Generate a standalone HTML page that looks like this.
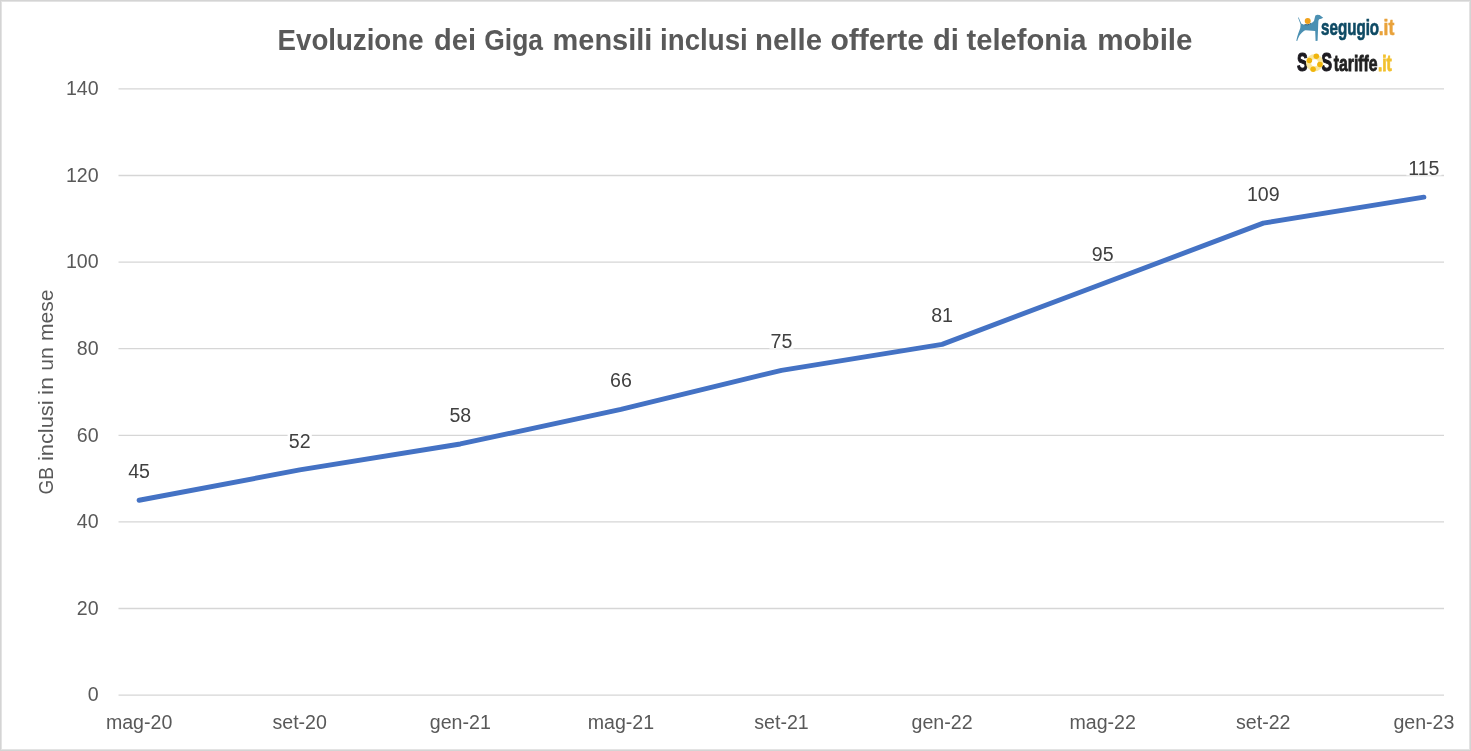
<!DOCTYPE html>
<html><head><meta charset="utf-8"><style>
html,body{margin:0;padding:0;background:#fff;}
body{width:1471px;height:751px;overflow:hidden;position:relative;}
.frame{position:absolute;left:0;top:0;width:1469px;height:749px;border:1px solid #d4d4d4;box-shadow:inset 0 0 0 1px #e3e3e3;}
svg{position:absolute;left:0;top:0;will-change:transform;}
</style></head><body><div class="frame"></div>
<svg width="1471" height="751" viewBox="0 0 1471 751" font-family="Liberation Sans, sans-serif">
<line x1="118.5" y1="695.10" x2="1444" y2="695.10" stroke="#d6d6d6" stroke-width="1.3"/>
<text x="98.6" y="701.40" text-anchor="end" font-size="19.6" fill="#595959">0</text>
<line x1="118.5" y1="608.50" x2="1444" y2="608.50" stroke="#d6d6d6" stroke-width="1.3"/>
<text x="98.6" y="614.80" text-anchor="end" font-size="19.6" fill="#595959">20</text>
<line x1="118.5" y1="521.90" x2="1444" y2="521.90" stroke="#d6d6d6" stroke-width="1.3"/>
<text x="98.6" y="528.20" text-anchor="end" font-size="19.6" fill="#595959">40</text>
<line x1="118.5" y1="435.30" x2="1444" y2="435.30" stroke="#d6d6d6" stroke-width="1.3"/>
<text x="98.6" y="441.60" text-anchor="end" font-size="19.6" fill="#595959">60</text>
<line x1="118.5" y1="348.70" x2="1444" y2="348.70" stroke="#d6d6d6" stroke-width="1.3"/>
<text x="98.6" y="355.00" text-anchor="end" font-size="19.6" fill="#595959">80</text>
<line x1="118.5" y1="262.10" x2="1444" y2="262.10" stroke="#d6d6d6" stroke-width="1.3"/>
<text x="98.6" y="268.40" text-anchor="end" font-size="19.6" fill="#595959">100</text>
<line x1="118.5" y1="175.50" x2="1444" y2="175.50" stroke="#d6d6d6" stroke-width="1.3"/>
<text x="98.6" y="181.80" text-anchor="end" font-size="19.6" fill="#595959">120</text>
<line x1="118.5" y1="88.90" x2="1444" y2="88.90" stroke="#d6d6d6" stroke-width="1.3"/>
<text x="98.6" y="95.20" text-anchor="end" font-size="19.6" fill="#595959">140</text>
<text x="139.10" y="728.8" text-anchor="middle" font-size="19.6" fill="#595959">mag-20</text>
<text x="299.70" y="728.8" text-anchor="middle" font-size="19.6" fill="#595959">set-20</text>
<text x="460.30" y="728.8" text-anchor="middle" font-size="19.6" fill="#595959">gen-21</text>
<text x="620.90" y="728.8" text-anchor="middle" font-size="19.6" fill="#595959">mag-21</text>
<text x="781.50" y="728.8" text-anchor="middle" font-size="19.6" fill="#595959">set-21</text>
<text x="942.10" y="728.8" text-anchor="middle" font-size="19.6" fill="#595959">gen-22</text>
<text x="1102.70" y="728.8" text-anchor="middle" font-size="19.6" fill="#595959">mag-22</text>
<text x="1263.30" y="728.8" text-anchor="middle" font-size="19.6" fill="#595959">set-22</text>
<text x="1423.90" y="728.8" text-anchor="middle" font-size="19.6" fill="#595959">gen-23</text>
<polyline points="139.10,500.25 299.70,469.94 460.30,443.96 620.90,409.32 781.50,370.35 942.10,344.37 1102.70,283.75 1263.30,223.13 1423.90,197.15" fill="none" stroke="#4472c4" stroke-width="4.9" stroke-linecap="round" stroke-linejoin="round"/>
<rect x="127.00" y="458.95" width="24.20" height="19.6" fill="#fff"/>
<text x="139.10" y="477.95" text-anchor="middle" font-size="19.6" fill="#404040">45</text>
<rect x="287.60" y="428.64" width="24.20" height="19.6" fill="#fff"/>
<text x="299.70" y="447.64" text-anchor="middle" font-size="19.6" fill="#404040">52</text>
<rect x="448.20" y="402.66" width="24.20" height="19.6" fill="#fff"/>
<text x="460.30" y="421.66" text-anchor="middle" font-size="19.6" fill="#404040">58</text>
<rect x="608.80" y="368.02" width="24.20" height="19.6" fill="#fff"/>
<text x="620.90" y="387.02" text-anchor="middle" font-size="19.6" fill="#404040">66</text>
<rect x="769.40" y="329.05" width="24.20" height="19.6" fill="#fff"/>
<text x="781.50" y="348.05" text-anchor="middle" font-size="19.6" fill="#404040">75</text>
<rect x="930.00" y="303.07" width="24.20" height="19.6" fill="#fff"/>
<text x="942.10" y="322.07" text-anchor="middle" font-size="19.6" fill="#404040">81</text>
<rect x="1090.60" y="242.45" width="24.20" height="19.6" fill="#fff"/>
<text x="1102.70" y="261.45" text-anchor="middle" font-size="19.6" fill="#404040">95</text>
<rect x="1245.75" y="181.83" width="35.09" height="19.6" fill="#fff"/>
<text x="1263.30" y="200.83" text-anchor="middle" font-size="19.6" fill="#404040">109</text>
<rect x="1406.35" y="155.85" width="35.09" height="19.6" fill="#fff"/>
<text x="1423.90" y="174.85" text-anchor="middle" font-size="19.6" fill="#404040">115</text>
<text transform="translate(53,493.5) rotate(-90)" x="-0.96" y="0" font-size="20.6" fill="#595959" textLength="27.46" lengthAdjust="spacingAndGlyphs">GB</text>
<text transform="translate(53,459.6) rotate(-90)" x="-1.46" y="0" font-size="20.6" fill="#595959" textLength="60.63" lengthAdjust="spacingAndGlyphs">inclusi</text>
<text transform="translate(53,393.4) rotate(-90)" x="-1.54" y="0" font-size="20.6" fill="#595959" textLength="17.94" lengthAdjust="spacingAndGlyphs">in</text>
<text transform="translate(53,369.4) rotate(-90)" x="-1.37" y="0" font-size="20.6" fill="#595959" textLength="23.55" lengthAdjust="spacingAndGlyphs">un</text>
<text transform="translate(53,339.6) rotate(-90)" x="-1.40" y="0" font-size="20.6" fill="#595959" textLength="51.54" lengthAdjust="spacingAndGlyphs">mese</text>
<text x="277.55" y="49.80" font-size="29.5" font-weight="bold" fill="#595959" textLength="146.00" lengthAdjust="spacingAndGlyphs">Evoluzione</text>
<text x="434.01" y="49.80" font-size="29.5" font-weight="bold" fill="#595959" textLength="41.95" lengthAdjust="spacingAndGlyphs">dei</text>
<text x="484.32" y="49.80" font-size="29.5" font-weight="bold" fill="#595959" textLength="58.72" lengthAdjust="spacingAndGlyphs">Giga</text>
<text x="552.59" y="49.80" font-size="29.5" font-weight="bold" fill="#595959" textLength="99.76" lengthAdjust="spacingAndGlyphs">mensili</text>
<text x="660.07" y="49.80" font-size="29.5" font-weight="bold" fill="#595959" textLength="87.69" lengthAdjust="spacingAndGlyphs">inclusi</text>
<text x="755.06" y="49.80" font-size="29.5" font-weight="bold" fill="#595959" textLength="67.04" lengthAdjust="spacingAndGlyphs">nelle</text>
<text x="830.42" y="49.80" font-size="29.5" font-weight="bold" fill="#595959" textLength="93.60" lengthAdjust="spacingAndGlyphs">offerte</text>
<text x="932.91" y="49.80" font-size="29.5" font-weight="bold" fill="#595959" textLength="25.85" lengthAdjust="spacingAndGlyphs">di</text>
<text x="966.54" y="49.80" font-size="29.5" font-weight="bold" fill="#595959" textLength="119.97" lengthAdjust="spacingAndGlyphs">telefonia</text>
<text x="1097.25" y="49.80" font-size="29.5" font-weight="bold" fill="#595959" textLength="95.26" lengthAdjust="spacingAndGlyphs">mobile</text>
<path d="M1298.0,17.6 L1298.7,17.4 L1301.2,23.4 L1304.6,24.9 L1308.9,24.8 L1311.3,23.5 L1314.0,21.0 L1314.9,17.3 L1315.4,15.4 L1317.2,14.8 L1319.6,15.1 L1322.2,16.9 L1323.2,17.8 L1321.2,18.7 L1319.1,19.3 L1318.4,20.8 L1318.2,24.5 L1317.6,40.8 L1315.6,41 L1315.2,31 L1305.5,30.2 C1302,31.5 1299,35 1297.2,41 L1296.3,40.8 C1297.5,35 1299,31.5 1300.3,28 L1300.6,24.5 Z" fill="#4b90b2"/>
<path d="M1304.4,24.6 Q1308,25.6 1311.4,23.3" fill="none" stroke="#24566e" stroke-width="0.9"/>
<circle cx="1307.7" cy="21.0" r="3.0" fill="#f0a21c"/>
<text x="1321.07" y="35.10" font-size="22.7" font-weight="bold" fill="#0e4a64" textLength="58.02" lengthAdjust="spacingAndGlyphs" stroke="#0e4a64" stroke-width="0.7">segugio</text>
<text x="1378.71" y="35.10" font-size="22.7" font-weight="bold" fill="#e9a23b" textLength="15.61" lengthAdjust="spacingAndGlyphs" stroke="#e9a23b" stroke-width="0.6">.it</text>
<text x="1297.03" y="71.00" font-size="25" font-weight="bold" fill="#1c1a20" textLength="10.80" lengthAdjust="spacingAndGlyphs" stroke="#1c1a20" stroke-width="1.1">S</text>
<text x="1321.33" y="71.00" font-size="25" font-weight="bold" fill="#1c1a20" textLength="10.80" lengthAdjust="spacingAndGlyphs" stroke="#1c1a20" stroke-width="1.1">S</text>
<circle cx="1314.6" cy="62.7" r="6.1" fill="none" stroke="#f9e7a0" stroke-width="5.2"/>
<circle cx="1316.3" cy="56.2" r="2.75" fill="#f0b50c"/>
<circle cx="1309.4" cy="60.4" r="2.75" fill="#f0b50c"/>
<circle cx="1319.9" cy="64.4" r="2.75" fill="#f0b50c"/>
<circle cx="1313.1" cy="69.2" r="2.75" fill="#f0b50c"/>
<text x="1333.81" y="70.80" font-size="21.5" font-weight="bold" fill="#222222" textLength="43.83" lengthAdjust="spacingAndGlyphs" stroke="#222222" stroke-width="0.8">tariffe</text>
<text x="1377.95" y="70.80" font-size="21.5" font-weight="bold" fill="#f2c12e" textLength="13.74" lengthAdjust="spacingAndGlyphs" stroke="#f2c12e" stroke-width="0.8">.it</text>
</svg></body></html>
